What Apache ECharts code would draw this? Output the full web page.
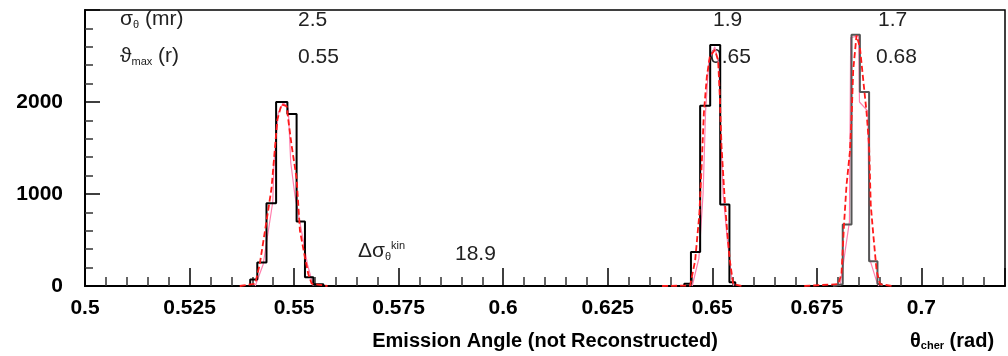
<!DOCTYPE html>
<html>
<head>
<meta charset="utf-8">
<script src="https://cdn.jsdelivr.net/npm/echarts@6/dist/echarts.min.js"></script>
<style>
  html, body { margin: 0; padding: 0; background: #fff; }
  #graph { width: 1008px; height: 356px; }
</style>
</head>
<body>
<div id="graph"></div>
<script>
// black histograms: bin edges and counts
var edges1 = [0.5395, 0.5412, 0.5434, 0.5457, 0.5484, 0.5506, 0.5526, 0.5546, 0.5570];
var counts1 = [70, 255, 900, 2000, 1870, 700, 95, 18];
var edges2 = [0.6433, 0.6449, 0.6471, 0.6495, 0.6519, 0.6541, 0.6555];
var counts2 = [25, 370, 1960, 2620, 885, 40];
var edges3 = [0.6789, 0.6812, 0.6833, 0.6853, 0.6875, 0.6895, 0.6905];
var counts3 = [20, 668, 2730, 2110, 270, 22];

// red dashed curves
var red1 = [[0.5370, 0], [0.5407, 25], [0.5418, 240], [0.5434, 705], [0.5446, 1060], [0.5460, 1810], [0.5470, 1975], [0.5482, 1955],
  [0.5494, 1530], [0.5506, 1170], [0.5514, 600], [0.5526, 310], [0.5534, 130], [0.5542, 25], [0.5580, 0]];
var red2 = [[0.6380, 0], [0.6447, 5], [0.6459, 275], [0.6469, 775], [0.6475, 1350], [0.6480, 1885], [0.6487, 2275], [0.6494, 2490],
  [0.6506, 2565], [0.6514, 2455], [0.6518, 2060], [0.6522, 1525], [0.6530, 920], [0.6535, 630], [0.6542, 275], [0.6550, 20], [0.6570, 0]];
var red3 = [[0.6720, 0], [0.6801, 20], [0.6809, 130], [0.6815, 665], [0.6821, 1095], [0.6829, 1455], [0.6833, 1810], [0.6837, 2345],
  [0.6845, 2725], [0.6853, 2595], [0.6861, 2240], [0.6869, 1885], [0.6875, 1525], [0.6879, 880], [0.6885, 560], [0.6893, 165],
  [0.6901, 20], [0.6930, 0]];

// pink curves
var pink1 = [[0.5407, 0], [0.5426, 234], [0.5449, 913], [0.5452, 1342], [0.5462, 1878], [0.5474, 1992], [0.5486, 1931],
  [0.5492, 1342], [0.5502, 984], [0.5518, 592], [0.5532, 234], [0.5546, 2]];
var pink2 = [[0.6452, 0], [0.6468, 300], [0.6478, 1000], [0.6484, 1900], [0.6492, 2450], [0.6506, 2600], [0.6516, 2400],
  [0.6520, 1700], [0.6526, 1000], [0.6536, 500], [0.6546, 100], [0.6552, 0]];
var pink3 = [[0.6805, 0], [0.6812, 200], [0.6828, 700], [0.6831, 2700], [0.6850, 2720], [0.6852, 2000], [0.6872, 1900],
  [0.6876, 300], [0.6893, 50], [0.6898, 0]];

var xTicks = [0.5, 0.525, 0.55, 0.575, 0.6, 0.625, 0.65, 0.675, 0.7];
var yTicks = [0, 1000, 2000];

function histData(edges, counts) {
  var d = [[edges[0], 0]];
  for (var i = 0; i < counts.length; i++) d.push([edges[i], counts[i]]);
  d.push([edges[edges.length - 1], 0]);
  return d;
}

var series = [];
[pink1, pink2, pink3].forEach(function (p) {
  series.push({ type: 'line', data: p, symbol: 'none', lineStyle: { color: '#ff7fae', width: 1.2 } });
});
[[edges1, counts1, '#000'], [edges2, counts2, '#000'], [edges3, counts3, '#555']].forEach(function (h) {
  series.push({ type: 'line', step: 'end', data: histData(h[0], h[1]), symbol: 'none', lineStyle: { color: h[2], width: 2 } });
});
[red1, red2, red3].forEach(function (r) {
  series.push({ type: 'line', data: r, symbol: 'none', lineStyle: { color: '#ff1a1a', width: 1.8, type: [6, 3] } });
});

var rich = {
  a: { fontFamily: 'Liberation Sans', fontSize: 21, color: '#222' },
  s: { fontFamily: 'Liberation Sans', fontSize: 11, color: '#222', padding: [10, 0, 0, 0] },
  u: { fontFamily: 'Liberation Sans', fontSize: 11, color: '#222', padding: [0, 0, 12, 0] }
};
function label(x, y, text) {
  return { type: 'text', left: x, top: y, style: { text: text, rich: rich, font: '21px "Liberation Sans"', fill: '#222' } };
}
function num(x, y, text) {
  return { type: 'text', left: x, top: y, style: { text: text, font: '21px "Liberation Sans"', fill: '#222' } };
}

var myChart = echarts.init(document.getElementById('graph'));
var option = {
  backgroundColor: '#fff',
  animation: false,
  grid: { left: 85, right: 3, top: 10, bottom: 66, show: true, borderColor: '#000', borderWidth: 1.5 },
  xAxis: {
    type: 'value', min: 0.5, max: 0.72, interval: 0.025,
    axisLine: { onZero: false, lineStyle: { color: '#000', width: 2 } },
    axisTick: { inside: true, length: 18, lineStyle: { color: '#000', width: 1.5 } },
    minorTick: { show: true, splitNumber: 5, length: 9, lineStyle: { color: '#333', width: 1.5 } },
    splitLine: { show: false },
    axisLabel: {
      color: '#000', fontWeight: 'bold', fontSize: 21, fontFamily: 'Liberation Sans', margin: 12, showMaxLabel: false,
      formatter: function (v) { return xTicks.indexOf(+v.toFixed(3)) >= 0 ? String(+v.toFixed(3)) : ''; }
    },
    name: 'Emission Angle (not Reconstructed)', nameLocation: 'middle', nameGap: 45,
    nameTextStyle: { color: '#000', fontWeight: 'bold', fontSize: 20, fontFamily: 'Liberation Sans' }
  },
  yAxis: {
    type: 'value', min: 0, max: 3000, interval: 1000,
    axisLine: { lineStyle: { color: '#000', width: 2 } },
    axisTick: { inside: true, length: 15, lineStyle: { color: '#000', width: 1.5 } },
    minorTick: { show: true, splitNumber: 5, length: 8, lineStyle: { color: '#333', width: 1.5 } },
    splitLine: { show: false },
    axisLabel: {
      color: '#000', fontWeight: 'bold', fontSize: 21, fontFamily: 'Liberation Sans', margin: 22, showMaxLabel: false,
      formatter: function (v) { return yTicks.indexOf(v) >= 0 ? String(v) : ''; }
    }
  },
  graphic: [
    label(120, 9, '{a|σ}{s|θ}{a| (mr)}'),
    num(298, 10, '2.5'),
    num(713, 10, '1.9'),
    num(878, 10, '1.7'),
    label(120, 46, '{a|ϑ}{s|max}{a| (r)}'),
    num(298, 47, '0.55'),
    num(710, 47, '0.65'),
    num(876, 47, '0.68'),
    label(358, 240, '{a|Δσ}{s|θ}{u|kin}'),
    num(455, 244, '18.9'),
    {
      type: 'text', left: 910, top: 331,
      style: {
        text: '{b|θ}{c|cher}{b| (rad)}',
        rich: {
          b: { fontFamily: 'Liberation Sans', fontSize: 20, fontWeight: 'bold', color: '#000' },
          c: { fontFamily: 'Liberation Sans', fontSize: 11, fontWeight: 'bold', color: '#000', padding: [10, 0, 0, 0] }
        }
      }
    }
  ],
  series: series
};
myChart.setOption(option);
</script>
</body>
</html>
